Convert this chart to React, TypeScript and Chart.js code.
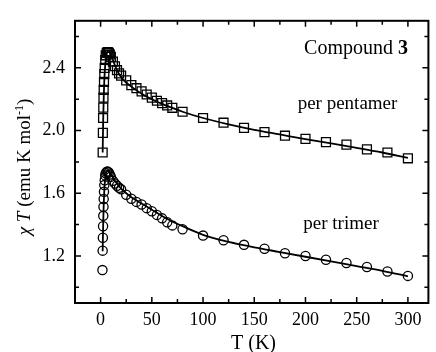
import React, { useEffect, useRef } from "react";
import { Chart, registerables } from "chart.js";

Chart.register(...registerables);

// Per pentamer (squares)
const pentT = [2, 2.2, 2.4, 2.6, 2.8, 3, 3.3, 3.6, 4, 4.5, 5, 6, 7, 8, 9, 10, 12, 14, 16, 18, 20, 25, 30, 35, 40, 45, 50, 55, 60, 65, 70, 80, 100, 120, 140, 160, 180, 200, 220, 240, 260, 280, 300];
const pentChi = [1.86, 1.985, 2.08, 2.146, 2.21, 2.26, 2.31, 2.36, 2.4, 2.45, 2.48, 2.495, 2.5, 2.495, 2.485, 2.47, 2.44, 2.41, 2.385, 2.365, 2.35, 2.32, 2.29, 2.27, 2.25, 2.23, 2.21, 2.19, 2.175, 2.16, 2.145, 2.12, 2.08, 2.05, 2.017, 1.99, 1.967, 1.947, 1.926, 1.91, 1.88, 1.86, 1.823];

// Per trimer (circles)
const trimT = [1.8, 2, 2.2, 2.4, 2.6, 2.8, 3, 3.3, 3.6, 4, 4.5, 5, 6, 7, 8, 9, 10, 12, 14, 16, 18, 20, 25, 30, 35, 40, 45, 50, 55, 60, 65, 70, 80, 100, 120, 140, 160, 180, 200, 220, 240, 260, 280, 300];
const trimChi = [1.11, 1.234, 1.316, 1.39, 1.456, 1.514, 1.563, 1.61, 1.652, 1.683, 1.714, 1.728, 1.737, 1.738, 1.733, 1.72, 1.705, 1.68, 1.662, 1.648, 1.635, 1.625, 1.59, 1.565, 1.545, 1.528, 1.505, 1.485, 1.462, 1.44, 1.415, 1.395, 1.37, 1.33, 1.3, 1.271, 1.246, 1.217, 1.2, 1.176, 1.155, 1.13, 1.101, 1.073];

// Fit curves
const pentFitT = [2, 2.5, 3, 3.5, 4, 5, 6, 7, 8, 10, 12, 15, 20, 25, 30, 40, 50, 60, 70, 80, 100, 125, 150, 175, 200, 225, 250, 275, 300];
const pentFit = [1.86, 2.06, 2.2, 2.3, 2.37, 2.45, 2.49, 2.505, 2.505, 2.48, 2.45, 2.4, 2.34, 2.305, 2.28, 2.235, 2.2, 2.17, 2.145, 2.12, 2.08, 2.04, 2.005, 1.975, 1.945, 1.918, 1.89, 1.86, 1.825];
const trimFitT = [2, 2.5, 3, 3.5, 4, 5, 6, 7, 8, 10, 12, 15, 20, 25, 30, 40, 50, 60, 70, 80, 100, 125, 150, 175, 200, 225, 250, 275, 300];
const trimFit = [1.23, 1.4, 1.52, 1.6, 1.66, 1.715, 1.74, 1.745, 1.74, 1.72, 1.7, 1.67, 1.63, 1.6, 1.575, 1.535, 1.495, 1.455, 1.42, 1.39, 1.335, 1.29, 1.255, 1.225, 1.195, 1.165, 1.135, 1.105, 1.07];

// Axes
const xTicks = [0, 50, 100, 150, 200, 250, 300];
const xMinorTicks = [25, 75, 125, 175, 225, 275];
const yTicks = [1.2, 1.6, 2.0, 2.4];
const yMinorTicks = [1.0, 1.4, 1.8, 2.2, 2.6];
const xRange = [-25, 320];
const yRange = [0.9, 2.7];

const FONT = '"Liberation Serif", "Times New Roman", serif';

const toXY = (xs: number[], ys: number[]) => xs.map((x, i) => ({ x, y: ys[i] }));

const decor = {
  id: "decor",
  afterDraw(chart: any) {
    const { ctx, chartArea: a } = chart;
    const xs = chart.scales.x;
    const ys = chart.scales.y;
    ctx.save();
    ctx.strokeStyle = "#000";
    ctx.lineWidth = 2;
    ctx.strokeRect(a.left, a.top, a.right - a.left, a.bottom - a.top);

    ctx.lineWidth = 1.5;
    const xTick = (v: number, len: number) => {
      const p = xs.getPixelForValue(v);
      ctx.beginPath();
      ctx.moveTo(p, a.bottom);
      ctx.lineTo(p, a.bottom - len);
      ctx.moveTo(p, a.top);
      ctx.lineTo(p, a.top + len);
      ctx.stroke();
    };
    const yTick = (v: number, len: number) => {
      const p = ys.getPixelForValue(v);
      ctx.beginPath();
      ctx.moveTo(a.left, p);
      ctx.lineTo(a.left + len, p);
      ctx.moveTo(a.right, p);
      ctx.lineTo(a.right - len, p);
      ctx.stroke();
    };
    xTicks.forEach((v) => xTick(v, 6));
    xMinorTicks.forEach((v) => xTick(v, 4));
    yTicks.forEach((v) => yTick(v, 6));
    yMinorTicks.forEach((v) => yTick(v, 4));

    ctx.fillStyle = "#000";
    ctx.textBaseline = "alphabetic";

    // Annotation: Compound 3
    ctx.font = `20px ${FONT}`;
    const t1 = "Compound ";
    const w1 = ctx.measureText(t1).width;
    ctx.font = `bold 20px ${FONT}`;
    const w2 = ctx.measureText("3").width;
    let sx = 356 - (w1 + w2) / 2;
    ctx.font = `20px ${FONT}`;
    ctx.textAlign = "left";
    ctx.fillText(t1, sx, 54);
    ctx.font = `bold 20px ${FONT}`;
    ctx.fillText("3", sx + w1, 54);

    ctx.font = `19px ${FONT}`;
    ctx.textAlign = "center";
    ctx.fillText("per pentamer", 347.5, 109);
    ctx.fillText("per trimer", 341, 229);

    // X title
    ctx.font = `20px ${FONT}`;
    ctx.fillText("T (K)", 253.5, 349);

    // Y title (rotated)
    ctx.translate(30, 167);
    ctx.rotate(-Math.PI / 2);
    const parts: [string, string, number][] = [
      ["χ", `italic 19px ${FONT}`, 0],
      [" ", `19px ${FONT}`, 0],
      ["T", `italic 19px ${FONT}`, 0],
      [" (emu K mol", `19px ${FONT}`, 0],
      ["-1", `12px ${FONT}`, -7],
      [")", `19px ${FONT}`, 0],
    ];
    let total = 0;
    const widths = parts.map(([s, f]) => {
      ctx.font = f;
      const w = ctx.measureText(s).width;
      total += w;
      return w;
    });
    let px = -total / 2;
    ctx.textAlign = "left";
    parts.forEach(([s, f, dy], i) => {
      ctx.font = f;
      ctx.fillText(s, px, dy);
      px += widths[i];
    });
    ctx.restore();
  },
};

export default function App() {
  const ref = useRef<HTMLCanvasElement>(null);
  useEffect(() => {
    document.body.style.margin = "0";
    const canvas = ref.current!;
    const chart = new Chart(canvas, {
      type: "scatter",
      data: {
        datasets: [
          {
            label: "pentamer fit",
            data: toXY(pentFitT, pentFit),
            showLine: true,
            pointRadius: 0,
            borderColor: "#000",
            borderWidth: 1.8,
            cubicInterpolationMode: "monotone",
          },
          {
            label: "trimer fit",
            data: toXY(trimFitT, trimFit),
            showLine: true,
            pointRadius: 0,
            borderColor: "#000",
            borderWidth: 1.8,
            cubicInterpolationMode: "monotone",
          },
          {
            label: "per pentamer",
            data: toXY(pentT, pentChi),
            pointStyle: "rect",
            pointRadius: 6.3,
            pointBorderWidth: 1.3,
            borderColor: "#000",
            backgroundColor: "rgba(0,0,0,0)",
            showLine: false,
          },
          {
            label: "per trimer",
            data: toXY(trimT, trimChi),
            pointStyle: "circle",
            pointRadius: 4.6,
            pointBorderWidth: 1.3,
            borderColor: "#000",
            backgroundColor: "rgba(0,0,0,0)",
            showLine: false,
          },
        ],
      },
      options: {
        animation: false,
        responsive: false,
        layout: { padding: { top: 12, right: 5, left: 0, bottom: 0 } },
        plugins: { legend: { display: false }, tooltip: { enabled: false } },
        scales: {
          x: {
            type: "linear",
            min: xRange[0],
            max: xRange[1],
            grid: { display: false, drawTicks: false },
            border: { display: false },
            afterBuildTicks: (s: any) => {
              s.ticks = xTicks.map((v) => ({ value: v }));
            },
            afterFit: (s: any) => {
              s.height = 49;
            },
            ticks: {
              color: "#000",
              font: { family: FONT, size: 18 },
              padding: 6,
              maxRotation: 0,
              autoSkip: false,
              callback: (v: any) => String(v),
            },
          },
          y: {
            type: "linear",
            min: yRange[0],
            max: yRange[1],
            grid: { display: false, drawTicks: false },
            border: { display: false },
            afterBuildTicks: (s: any) => {
              s.ticks = yTicks.map((v) => ({ value: v }));
            },
            afterFit: (s: any) => {
              s.width = 75;
            },
            ticks: {
              color: "#000",
              font: { family: FONT, size: 18 },
              padding: 10,
              autoSkip: false,
              callback: (v: any) => Number(v).toFixed(1),
            },
          },
        },
      },
      plugins: [decor],
    } as any);
    return () => chart.destroy();
  }, []);
  return (
    <div style={{ position: "absolute", left: 0, top: 0, width: 436, height: 352 }}>
      <canvas ref={ref} width={436} height={352} style={{ display: "block", width: 436, height: 352 }} />
    </div>
  );
}
